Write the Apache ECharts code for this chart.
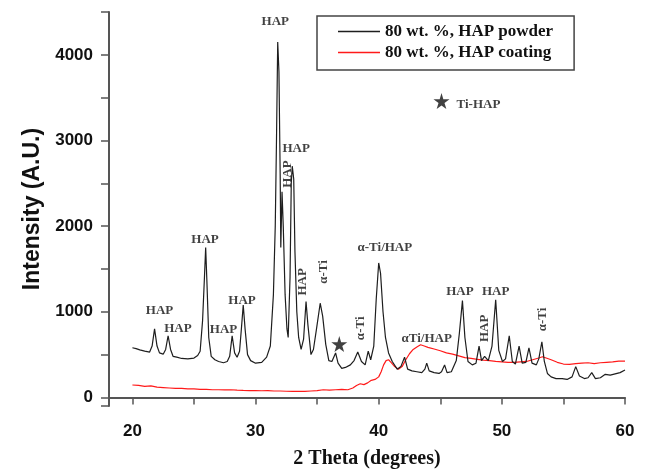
<!DOCTYPE html>
<html>
<head>
<meta charset="utf-8">
<script src="https://cdn.jsdelivr.net/npm/echarts@6/dist/echarts.min.js"></script>
<style>
    html, body { margin: 0; padding: 0; background: #fff; }
    #chart { width: 647px; height: 474px; }
</style>
</head>
<body>
<div id="chart"></div>
<script>
// XRD pattern, 80 wt.% HAP powder (black)
var powderX = [20.0, 20.3, 20.6, 21.0, 21.4, 21.6, 21.8, 22.0, 22.2, 22.5, 22.7, 22.9, 23.1, 23.3, 23.6, 24.0, 24.5, 25.0, 25.3, 25.5,
    25.7, 25.85, 25.95, 26.05, 26.2, 26.4, 26.7, 27.0, 27.4, 27.7, 27.9, 28.1, 28.3, 28.5, 28.7, 28.85, 29.0, 29.15, 29.35, 29.6,
    30.0, 30.5, 30.9, 31.2, 31.45, 31.6, 31.7, 31.8, 31.9, 32.0, 32.05, 32.15, 32.25, 32.4, 32.55, 32.65, 32.8, 32.9, 32.98, 33.1,
    33.2, 33.35, 33.5, 33.7, 33.9, 34.1, 34.25, 34.5, 34.7, 34.95, 35.25, 35.45, 35.7, 35.95, 36.2, 36.5, 36.7, 37.0, 37.3, 37.7,
    38.0, 38.3, 38.6, 38.9, 39.15, 39.35, 39.6, 39.8, 40.0, 40.15, 40.35, 40.55, 40.8, 41.1, 41.5, 41.8, 42.1, 42.35, 42.7, 43.1,
    43.5, 43.75, 43.9, 44.1, 44.5, 44.9, 45.1, 45.35, 45.55, 45.9, 46.3, 46.55, 46.8, 47.0, 47.25, 47.6, 47.9, 48.15, 48.35, 48.6,
    48.9, 49.2, 49.5, 49.75, 50.05, 50.3, 50.6, 50.85, 51.1, 51.4, 51.65, 51.95, 52.2, 52.45, 52.8, 53.0, 53.25, 53.45, 53.7, 54.0,
    54.4, 54.9, 55.3, 55.7, 56.0, 56.3, 56.7, 57.0, 57.3, 57.6, 58.0, 58.4, 58.8, 59.2, 59.6, 60.0];
var powderY = [580, 570, 555, 540, 530, 600, 800, 600, 520, 505, 560, 720, 560, 480, 470, 455, 450, 460, 490, 540,
    900, 1400, 1750, 1350, 700, 480, 440, 420, 405, 420, 480, 720, 520, 470, 540, 800, 1080, 800, 500, 430,
    400, 410, 470, 600, 1200, 2000, 3000, 4150, 3800, 2600, 1750, 2400, 2000, 1200, 800, 700, 1400, 2500, 2700, 2550,
    1700, 1000, 700, 560, 680, 1120, 850, 500, 560, 800, 1100, 950, 620, 430, 420, 520, 400, 340, 350, 380,
    430, 530, 420, 380, 540, 440, 600, 1150, 1570, 1450, 1000, 700, 520, 420, 330, 360, 470, 330, 310, 300,
    290, 330, 400, 310, 290, 280, 300, 380, 290, 300, 430, 750, 1130, 700, 420, 380, 400, 600, 430, 480,
    430, 600, 1140, 550, 420, 450, 720, 420, 390, 600, 400, 410, 580, 400, 380, 450, 650, 420, 280, 240,
    220, 220, 210, 240, 360, 250, 220, 230, 290, 220, 230, 270, 260, 275, 290, 320];

// XRD pattern, 80 wt.% HAP coating (red)
var coatingX = [20.0, 20.5, 21.0, 21.5, 22.0, 22.5, 23.0, 23.5, 24.0, 24.5, 25.0, 25.5, 26.0, 26.5, 27.0, 27.5, 28.0, 28.5, 29.0, 29.5,
    30.0, 30.5, 31.0, 31.5, 32.0, 32.5, 33.0, 33.5, 34.0, 34.5, 35.0, 35.5, 36.0, 36.5, 37.0, 37.5, 37.9, 38.2, 38.5, 38.8,
    39.1, 39.4, 39.7, 40.0, 40.2, 40.4, 40.6, 40.8, 41.0, 41.3, 41.6, 41.9, 42.2, 42.5, 42.8, 43.1, 43.4, 43.7, 44.0, 44.5,
    45.0, 45.5, 46.0, 46.5, 47.0, 47.5, 48.0, 48.5, 49.0, 49.5, 50.0, 50.5, 51.0, 51.5, 52.0, 52.5, 53.0, 53.3, 53.6, 54.0,
    54.5, 55.0, 55.5, 56.0, 56.5, 57.0, 57.5, 58.0, 58.5, 59.0, 59.5, 60.0];
var coatingY = [145, 140, 130, 135, 120, 115, 110, 105, 105, 100, 100, 95, 95, 90, 90, 88, 90, 85, 82, 80,
    80, 78, 80, 75, 75, 72, 70, 72, 70, 75, 80, 90, 85, 90, 95, 90, 110, 140, 160, 150,
    170, 200, 210, 240, 300, 380, 430, 440, 410, 360, 330, 360, 440, 510, 560, 590, 615, 600, 585, 565,
    545, 520, 505, 485, 465, 455, 445, 435, 430, 420, 415, 410, 410, 415, 420, 440, 460, 475, 460, 440,
    410, 390, 385, 395, 400, 405, 395, 405, 410, 415, 425, 425];

// peak labels (horizontal)
var labelText = ['HAP', 'HAP', 'HAP', 'HAP', 'HAP', 'HAP', 'HAP', 'α-Ti/HAP', 'αTi/HAP', 'HAP', 'HAP', 'Ti-HAP'];
var labelX = [22.2, 23.7, 25.9, 27.4, 28.9, 31.6, 33.3, 40.5, 43.9, 46.6, 49.5, 48.1];
var labelY = [1015, 807, 1845, 796, 1130, 4383, 2907, 1753, 692, 1234, 1234, 3422];

// peak labels (vertical)
var vLabelText = ['HAP', 'HAP', 'α-Ti', 'α-Ti', 'HAP', 'α-Ti'];
var vLabelX = [32.6, 33.85, 35.5, 38.5, 48.6, 53.3];
var vLabelY = [2607, 1350, 1465, 807, 807, 911];

// star markers
var starX = [36.8, 45.1];
var starY = [623, 3460];

var seriesNames = ['80 wt. %, HAP powder', '80 wt. %, HAP coating'];

function zip(xs, ys) {
    var out = [];
    for (var i = 0; i < xs.length; i++) {
        out.push([xs[i], ys[i]]);
    }
    return out;
}
function labelData(texts, xs, ys) {
    var out = [];
    for (var i = 0; i < texts.length; i++) {
        out.push({ name: texts[i], value: [xs[i], ys[i]] });
    }
    return out;
}

var serif = '"Liberation Serif", "Times New Roman", serif';
var sans = '"Liberation Sans", Arial, sans-serif';

var chart = echarts.init(document.getElementById('chart'));
var option = {
    animation: false,
    backgroundColor: '#fff',
    grid: { left: 109, right: 22, top: 12, bottom: 66 },
    legend: {
        data: seriesNames,
        icon: 'rect',
        orient: 'vertical',
        left: 317,
        top: 16,
        padding: [7, 21, 9, 21],
        itemGap: 4,
        itemWidth: 42,
        itemHeight: 1.6,
        borderColor: '#444',
        borderWidth: 1.5,
        textStyle: { fontFamily: serif, fontWeight: 'bold', fontSize: 17, color: '#111', lineHeight: 17 }
    },
    xAxis: {
        type: 'value',
        min: 18.1,
        max: 60,
        name: '2 Theta (degrees)',
        nameLocation: 'middle',
        nameGap: 43,
        nameTextStyle: { fontFamily: serif, fontWeight: 'bold', fontSize: 20, color: '#111' },
        axisLine: { lineStyle: { color: '#555', width: 2 } },
        axisTick: { length: 7, lineStyle: { color: '#555', width: 1.5 } },
        minorTick: { show: true, splitNumber: 2, length: 7, lineStyle: { color: '#555', width: 1.5 } },
        splitLine: { show: false },
        axisLabel: {
            margin: 17,
            fontFamily: sans, fontWeight: 'bold', fontSize: 17, color: '#111',
            formatter: function(v) { return v % 10 === 0 ? String(v) : ''; }
        }
    },
    yAxis: {
        type: 'value',
        min: -100,
        max: 4500,
        name: 'Intensity (A.U.)',
        nameLocation: 'middle',
        nameGap: 64,
        nameTextStyle: { fontFamily: sans, fontWeight: 'bold', fontSize: 23, color: '#111' },
        axisLine: { show: true, lineStyle: { color: '#555', width: 2 } },
        axisTick: { show: true, length: 8, lineStyle: { color: '#555', width: 1.5 } },
        minorTick: { show: true, splitNumber: 2, length: 8, lineStyle: { color: '#555', width: 1.5 } },
        splitLine: { show: false },
        axisLabel: {
            margin: 16,
            fontFamily: sans, fontWeight: 'bold', fontSize: 17, color: '#111',
            formatter: function(v) { return v % 1000 === 0 ? String(v) : ''; }
        }
    },
    series: [{
        name: seriesNames[0],
        type: 'line',
        data: zip(powderX, powderY),
        showSymbol: false,
        symbol: 'none',
        lineStyle: { color: '#1e1e1e', width: 1.2 },
        itemStyle: { color: '#1e1e1e' },
        z: 3
    }, {
        name: seriesNames[1],
        type: 'line',
        data: zip(coatingX, coatingY),
        showSymbol: false,
        symbol: 'none',
        lineStyle: { color: '#ff1a1a', width: 1.2 },
        itemStyle: { color: '#ff1a1a' },
        z: 2
    }, {
        name: 'labels',
        type: 'scatter',
        data: labelData(labelText, labelX, labelY),
        symbolSize: 1,
        itemStyle: { color: 'rgba(0,0,0,0)' },
        silent: true,
        label: {
            show: true, position: 'inside', formatter: '{b}',
            fontFamily: serif, fontWeight: 'bold', fontSize: 13, color: '#111'
        },
        z: 5
    }, {
        name: 'vlabels',
        type: 'scatter',
        data: labelData(vLabelText, vLabelX, vLabelY),
        symbolSize: 1,
        itemStyle: { color: 'rgba(0,0,0,0)' },
        silent: true,
        label: {
            show: true, position: 'inside', formatter: '{b}', rotate: 90,
            align: 'center', verticalAlign: 'middle',
            fontFamily: serif, fontWeight: 'bold', fontSize: 13, color: '#111'
        },
        z: 5
    }, {
        name: 'stars',
        type: 'scatter',
        data: zip(starX, starY),
        symbol: 'path://M50,0 L61,35 L98,35 L68,57 L79,91 L50,70 L21,91 L32,57 L2,35 L39,35 Z',
        symbolSize: 16,
        itemStyle: { color: '#111' },
        silent: true,
        z: 5
    }]
};
chart.setOption(option);
</script>
</body>
</html>
